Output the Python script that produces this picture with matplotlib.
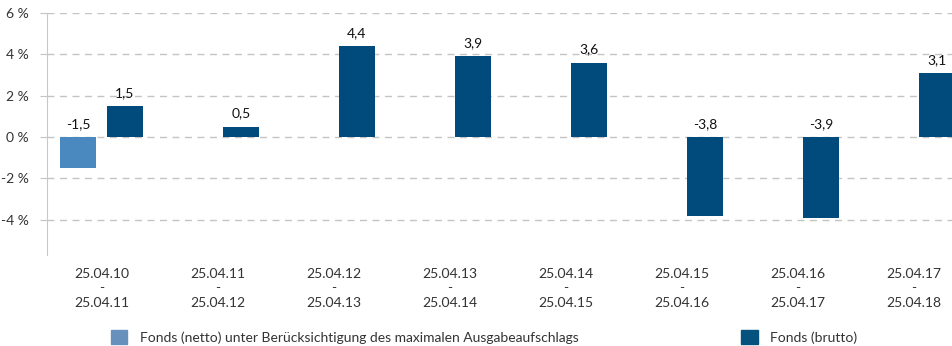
import matplotlib.pyplot as plt
from matplotlib.patches import Patch
import numpy as np

periods = [
    ("25.04.10", "25.04.11"), ("25.04.11", "25.04.12"), ("25.04.12", "25.04.13"),
    ("25.04.13", "25.04.14"), ("25.04.14", "25.04.15"), ("25.04.15", "25.04.16"),
    ("25.04.16", "25.04.17"), ("25.04.17", "25.04.18"),
]
netto = [-1.5, None, None, None, None, None, None, None]
brutto = [1.5, 0.5, 4.4, 3.9, 3.6, -3.8, -3.9, 3.1]
y_ticks = [-4, -2, 0, 2, 4, 6]

NETTO_COLOR = "#4a88c0"
BRUTTO_COLOR = "#004a7c"
GRID_COLOR = "#c4c4c4"
TEXT_COLOR = "#333333"

plt.rcParams["font.family"] = ["Lato", "DejaVu Sans"]

fig = plt.figure(figsize=(9.52, 3.46), dpi=100)
ax = fig.add_axes([0.0494, 0.263, 0.9506, 0.6994])

x = np.arange(len(periods))
bar_w = 0.31
offset = 0.2


def fmt(v):
    return "{:.1f}".format(v).replace(".", ",")


for i, v in enumerate(netto):
    if v is None:
        continue
    ax.bar(x[i] - offset, v, width=bar_w, color=NETTO_COLOR, zorder=3)
    ax.text(x[i] - offset, max(v, 0) + 0.35, fmt(v), ha="center", va="bottom",
            fontsize=10, color="#111111")

for i, v in enumerate(brutto):
    ax.bar(x[i] + offset, v, width=bar_w, color=BRUTTO_COLOR, zorder=3)
    ax.text(x[i] + offset, max(v, 0) + 0.35, fmt(v), ha="center", va="bottom",
            fontsize=10, color="#111111")

ax.set_xlim(-0.47, 7.33)
ax.set_ylim(-5.7, 6)
ax.set_yticks(y_ticks)
ax.set_yticklabels(["{} %".format(t) for t in y_ticks])
ax.yaxis.grid(True, color=GRID_COLOR, linestyle=(0, (5, 4)), linewidth=1, zorder=0)

ax.set_xticks(x)
ax.set_xticklabels(["{}\n-\n{}".format(a, b) for a, b in periods], linespacing=1.25)

for side in ["top", "right", "bottom"]:
    ax.spines[side].set_visible(False)
ax.spines["left"].set_color("#c8c8c8")

ax.tick_params(axis="y", length=5, color=GRID_COLOR, labelsize=10, labelcolor=TEXT_COLOR, pad=8)
ax.tick_params(axis="x", length=0, labelsize=10, labelcolor=TEXT_COLOR, pad=9)

# legend swatches are a little lighter than the bars
handles = [
    Patch(color="#6890bd", label="Fonds (netto) unter Berücksichtigung des maximalen Ausgabeaufschlags"),
    Patch(color="#06527f", label="Fonds (brutto)"),
]
fig.legend(handles=handles, loc="center left", bbox_to_anchor=(0.103, 0.025), ncol=2,
           frameon=False, fontsize=10, handlelength=1.2, handleheight=1.2,
           handletextpad=0.9, columnspacing=11.7, labelcolor=TEXT_COLOR)

fig.savefig("out.png", dpi=100)
